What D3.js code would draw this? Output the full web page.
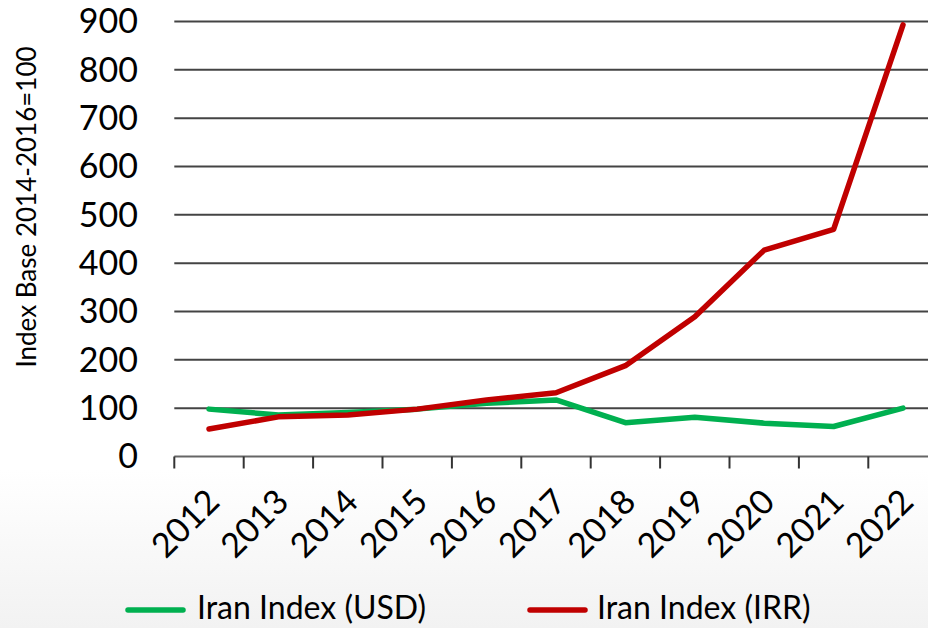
<!DOCTYPE html>
<html><head><meta charset="utf-8">
<script src="https://cdn.jsdelivr.net/npm/d3@7"></script>
<style>html,body{margin:0;padding:0;background:#fff;}svg{display:block;font-family:Lato,"Open Sans",sans-serif;}</style>
</head><body>
<script>
const years = ["2012","2013","2014","2015","2016","2017","2018","2019","2020","2021","2022"];
const usd = [98, 86, 91, 98, 110, 117, 70, 81, 69, 62, 100];
const irr = [57, 82, 86, 98, 117, 132, 188, 289, 427, 470, 893];
const yTicks = [0,100,200,300,400,500,600,700,800,900];
const seriesNames = ["Iran Index (USD)", "Iran Index (IRR)"];
const seriesColors = ["#00B050", "#C00000"];

const W = 928, H = 628;
const svg = d3.select("body").append("svg").attr("width", W).attr("height", H);

const defs = svg.append("defs");
const grad = defs.append("linearGradient").attr("id","bg").attr("x1",0).attr("y1",0).attr("x2",0).attr("y2",1);
grad.append("stop").attr("offset","0%").attr("stop-color","#ffffff");
grad.append("stop").attr("offset","100%").attr("stop-color","#f2f2f2");
svg.append("rect").attr("x",0).attr("y",0).attr("width",W).attr("height",H).attr("fill","#fff");
svg.append("rect").attr("x",0).attr("y",470).attr("width",W).attr("height",H-470).attr("fill","url(#bg)");

const x = d3.scaleBand().domain(years).range([174.3, 174.3 + 69.4*11]).paddingInner(0).paddingOuter(0);
const y = d3.scaleLinear().domain([0,900]).range([456.5, 21.5]);

// gridlines
svg.append("g").selectAll("line").data(yTicks.filter(d=>d>0)).join("line")
  .attr("x1",174.3).attr("x2",W).attr("y1",d=>y(d)).attr("y2",d=>y(d))
  .attr("stroke","#444").attr("stroke-width",2);

// y labels
svg.append("g").selectAll("text").data(yTicks).join("text")
  .attr("x",138).attr("y",d=>y(d)).attr("dy","0.35em").attr("text-anchor","end")
  .attr("font-size",34).attr("fill","#000").text(d=>d);

// x axis
const xAxis = svg.append("g").attr("transform",`translate(0,${y(0)})`);
xAxis.append("line").attr("x1",174.3).attr("x2",W).attr("y1",0).attr("y2",0).attr("stroke","#666").attr("stroke-width",2);
const bounds = years.map(d=>x(d));
xAxis.selectAll("line.tick").data(bounds).join("line").attr("class","tick")
  .attr("x1",d=>d).attr("x2",d=>d).attr("y1",0).attr("y2",12).attr("stroke","#333").attr("stroke-width",2);
xAxis.selectAll("text").data(years).join("text")
  .attr("transform",d=>`translate(${x(d)+x.bandwidth()/2+4},${39}) rotate(-45)`)
  .attr("text-anchor","end").attr("dy","0.35em").attr("font-size",34).attr("fill","#000").text(d=>d);

// y title
svg.append("text").attr("transform","translate(27,207) rotate(-90)").attr("text-anchor","middle")
  .attr("dy","0.35em").attr("font-size",26).attr("fill","#000").text("Index Base 2014-2016=100");

const line = d3.line().x((d,i)=>x(years[i])+x.bandwidth()/2).y(d=>y(d));
[usd, irr].forEach((s,i)=>{
  svg.append("path").datum(s).attr("d",line).attr("fill","none")
    .attr("stroke",seriesColors[i]).attr("stroke-width",5.5)
    .attr("stroke-linejoin","round").attr("stroke-linecap","round");
});

// legend
const leg = [{x1:128,x2:183,tx:197},{x1:530,x2:585,tx:597}];
leg.forEach((l,i)=>{
  svg.append("line").attr("x1",l.x1).attr("x2",l.x2).attr("y1",610).attr("y2",610)
    .attr("stroke",seriesColors[i]).attr("stroke-width",5.5).attr("stroke-linecap","round");
  svg.append("text").attr("x",l.tx).attr("y",608).attr("dy","0.35em").attr("font-size",32)
    .attr("fill","#000").text(seriesNames[i]);
});
</script>
</body></html>
